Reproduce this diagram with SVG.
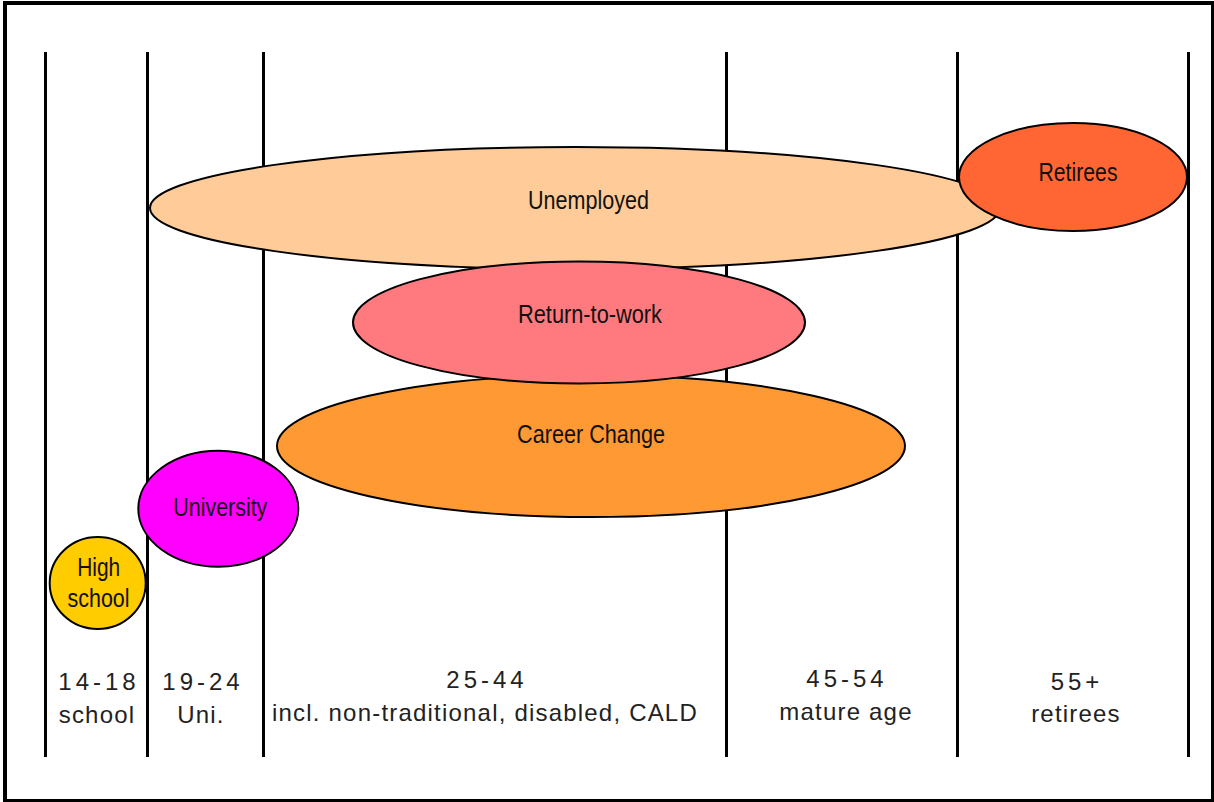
<svg xmlns="http://www.w3.org/2000/svg" width="1214" height="802" viewBox="0 0 1214 802">
<style>
.frame{fill:none;stroke:#000;stroke-width:4}
.div{stroke:#000;stroke-width:3}
.node{stroke:#000;stroke-width:2}
.lbl{font-family:"Liberation Sans",Arial,sans-serif;font-size:26px;fill:#111;text-anchor:middle}
.age{font-family:"Liberation Sans",Arial,sans-serif;font-size:24px;fill:#222;text-anchor:middle;letter-spacing:4px}
.desc{font-family:"Liberation Sans",Arial,sans-serif;font-size:24px;fill:#222;text-anchor:middle;letter-spacing:1.2px}
</style>
<rect x="0" y="0" width="1214" height="802" fill="#fff"/>
<rect class="frame" x="5" y="3" width="1208" height="798"/>
<g id="dividers">
<line class="div" x1="45.5" y1="52" x2="45.5" y2="757"/>
<line class="div" x1="147.5" y1="52" x2="147.5" y2="757"/>
<line class="div" x1="263.5" y1="52" x2="263.5" y2="757"/>
<line class="div" x1="726.5" y1="52" x2="726.5" y2="757"/>
<line class="div" x1="957.5" y1="52" x2="957.5" y2="757"/>
<line class="div" x1="1188.5" y1="52" x2="1188.5" y2="757"/>
</g>
<g id="connectors"></g>
<g id="career-change">
<ellipse class="node" cx="591" cy="446" rx="314" ry="71" fill="#FF9933"/>
<text class="lbl" x="591" y="443" textLength="148" lengthAdjust="spacingAndGlyphs">Career Change</text>
</g>
<g id="unemployed">
<ellipse class="node" cx="575" cy="208" rx="425" ry="61" fill="#FFCC99"/>
<text class="lbl" x="588.5" y="209" textLength="121" lengthAdjust="spacingAndGlyphs">Unemployed</text>
</g>
<g id="retirees">
<ellipse class="node" cx="1073" cy="177" rx="114" ry="54" fill="#FF6633"/>
<text class="lbl" x="1078" y="181" textLength="79" lengthAdjust="spacingAndGlyphs">Retirees</text>
</g>
<g id="return-to-work">
<ellipse class="node" cx="579" cy="322.5" rx="226" ry="61" fill="#FF7A7F"/>
<text class="lbl" x="590" y="323" textLength="144" lengthAdjust="spacingAndGlyphs">Return-to-work</text>
</g>
<g id="university">
<ellipse class="node" cx="218.3" cy="508.7" rx="80" ry="58" fill="#FF00FF"/>
<text class="lbl" x="220.3" y="516" textLength="94" lengthAdjust="spacingAndGlyphs">University</text>
</g>
<g id="high-school">
<ellipse class="node" cx="97.7" cy="583" rx="48" ry="46" fill="#FFCC00"/>
<text class="lbl" x="98.7" y="575.7" font-size="25" textLength="43" lengthAdjust="spacingAndGlyphs">High</text>
<text class="lbl" x="98.5" y="607.3" font-size="25" textLength="62" lengthAdjust="spacingAndGlyphs">school</text>
</g>
<g id="age-labels">
<text class="age" x="99" y="690">14-18</text>
<text class="desc" x="97" y="723">school</text>
<text class="age" x="203" y="690">19-24</text>
<text class="desc" x="201" y="723">Uni.</text>
<text class="age" x="487" y="688">25-44</text>
<text class="desc" x="485" y="721">incl. non-traditional, disabled, CALD</text>
<text class="age" x="847" y="687">45-54</text>
<text class="desc" x="846" y="720">mature age</text>
<text class="age" x="1077" y="690">55+</text>
<text class="desc" x="1076" y="722">retirees</text>
</g>
</svg>
